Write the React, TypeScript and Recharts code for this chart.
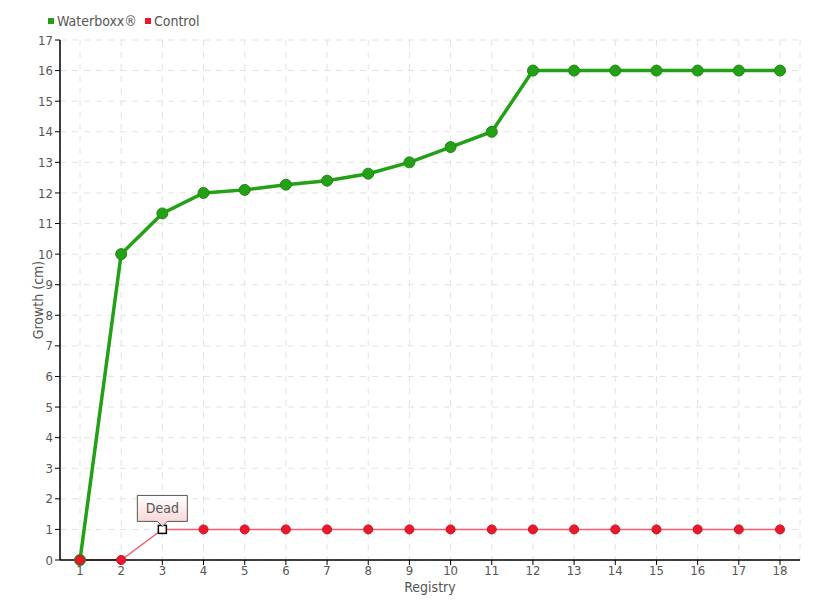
import React from 'react';
import { LineChart, Line, XAxis, YAxis, CartesianGrid, LabelList } from 'recharts';

const registries = ['1','2','3','4','5','6','7','8','9','10','11','12','13','14','15','16','17','18'];
const waterboxx = [0, 10, 11.33, 12, 12.1, 12.27, 12.4, 12.63, 13, 13.5, 14, 16, 16, 16, 16, 16, 16, 16];
const control = [0, 0, 1, 1, 1, 1, 1, 1, 1, 1, 1, 1, 1, 1, 1, 1, 1, 1];
const yTicks = [0,1,2,3,4,5,6,7,8,9,10,11,12,13,14,15,16,17];
const deadIndex = 2;
const deadLabel = 'Dead';

const data = registries.map((r, i) => ({ reg: r, waterboxx: waterboxx[i], control: control[i] }));

const FONT = "'DejaVu Sans Condensed', 'DejaVu Sans', sans-serif";
const TEXT = '#555';
const GREEN = '#23a015';
const GREEN_DARK = '#1e8a14';
const RED = '#e8192c';

const ControlDot = (props: any) => {
  const { cx, cy, index } = props;
  if (index === deadIndex) {
    return <rect key={`d${index}`} x={cx - 4} y={cy - 4} width={8} height={8} fill="#fff" stroke="#000" strokeWidth={1.5} />;
  }
  return <circle key={`d${index}`} cx={cx} cy={cy} r={4.5} fill={RED} stroke="#d0101e" strokeWidth={1} />;
};

const DeadLabel = (props: any) => {
  const { x, y, index } = props;
  if (index !== deadIndex) return null;
  const w = 50, h = 26;
  const bx = x - w / 2;
  const by = y - 34;
  return (
    <g>
      <defs>
        <linearGradient id="deadGrad" x1="0" y1="0" x2="0" y2="1">
          <stop offset="0%" stopColor="#ffffff" />
          <stop offset="100%" stopColor="#f9d0d0" />
        </linearGradient>
      </defs>
      <path
        d={`M${bx},${by} L${bx + w},${by} L${bx + w},${by + h} L${x + 5},${by + h} L${x},${by + h + 5} L${x - 5},${by + h} L${bx},${by + h} Z`}
        fill="url(#deadGrad)" stroke="#555" strokeWidth={1}
      />
      <text x={x} y={by + h / 2 + 5} textAnchor="middle" fontFamily={FONT} fontSize={14} fill={TEXT}>{deadLabel}</text>
    </g>
  );
};

export default function App() {
  return (
    <div style={{ position: 'absolute', left: 0, top: 0, width: 820, height: 600, background: '#fff' }}>
      <div style={{ position: 'absolute', left: 48, top: 13, zIndex: 2, display: 'flex', alignItems: 'center', fontFamily: FONT, fontSize: 14, color: TEXT }}>
        <span style={{ display: 'inline-block', width: 6, height: 6, background: GREEN, marginRight: 3 }} />
        <span style={{ marginRight: 8 }}>Waterboxx®</span>
        <span style={{ display: 'inline-block', width: 6, height: 6, background: RED, marginRight: 3 }} />
        <span>Control</span>
      </div>
      <LineChart width={820} height={600} data={data} margin={{ top: 40, right: 20, bottom: 0, left: 0 }}>
        <CartesianGrid stroke="#e2e2e2" strokeDasharray="6 6" />
        <XAxis
          dataKey="reg"
          height={40}
          interval={0}
          padding={{ left: 20, right: 20 }}
          axisLine={{ stroke: '#000', strokeWidth: 1.5 }}
          tickLine={{ stroke: '#000' }}
          tickSize={5}
          tickMargin={1}
          tick={{ fill: TEXT, fontSize: 13, fontFamily: FONT }}
          label={{ value: 'Registry', position: 'insideBottom', offset: 8, fill: TEXT, fontSize: 14, fontFamily: FONT }}
        />
        <YAxis
          width={60}
          domain={[0, 17]}
          ticks={yTicks}
          interval={0}
          axisLine={{ stroke: '#000', strokeWidth: 1.5 }}
          tickLine={{ stroke: '#000' }}
          tickSize={5}
          tick={{ fill: TEXT, fontSize: 13, fontFamily: FONT }}
          label={{ value: 'Growth (cm)', angle: -90, position: 'center', dx: 8, fill: TEXT, fontSize: 14, fontFamily: FONT }}
        />
        <Line
          dataKey="waterboxx"
          stroke={GREEN}
          strokeWidth={3.5}
          dot={{ r: 5.5, fill: GREEN, stroke: GREEN_DARK, strokeWidth: 1 }}
          isAnimationActive={false}
        />
        <Line
          dataKey="control"
          stroke="#f06070"
          strokeWidth={1.5}
          dot={<ControlDot />}
          isAnimationActive={false}
        >
          <LabelList dataKey="control" content={<DeadLabel />} />
        </Line>
      </LineChart>
    </div>
  );
}
